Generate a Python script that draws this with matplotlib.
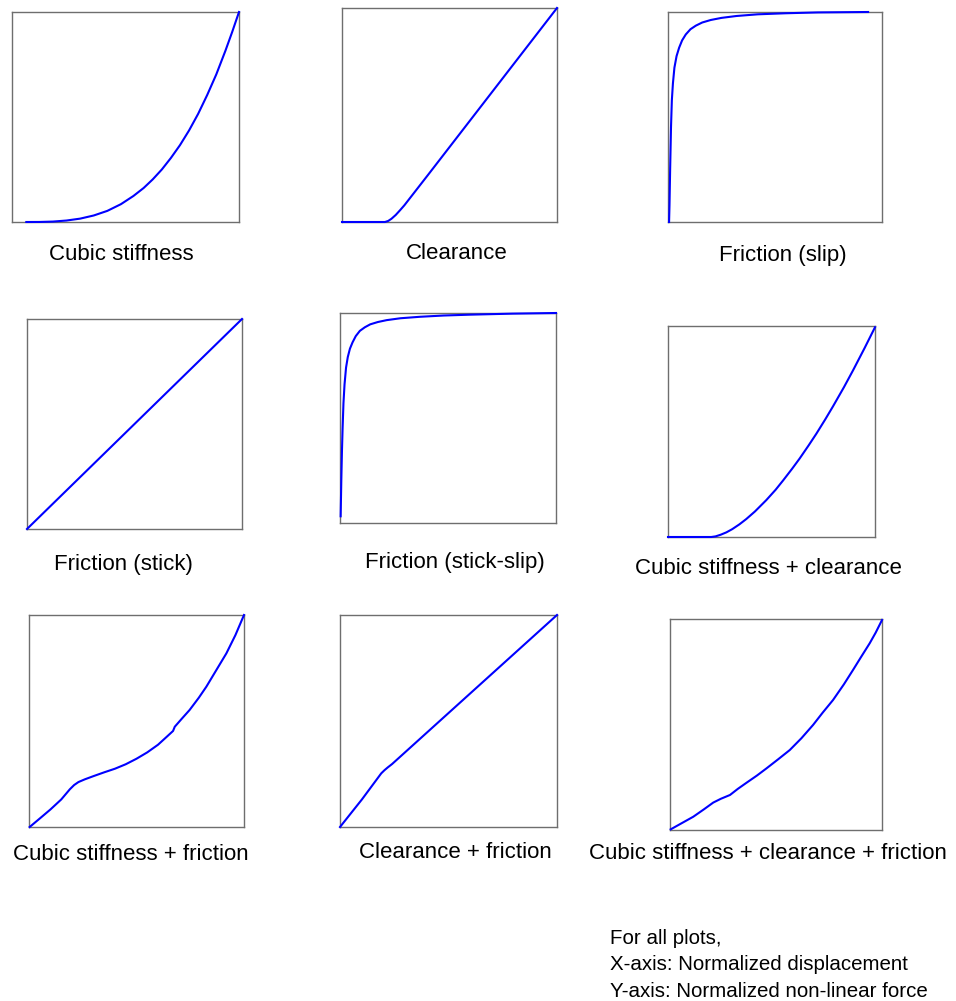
import matplotlib
matplotlib.use("Agg")
import matplotlib.pyplot as plt

plt.rcParams["font.family"] = ["Liberation Sans", "DejaVu Sans"]

W, H = 956, 1001

# Normalized force-displacement curves, one pair of lists per nonlinearity
cubic_x = [0.063, 0.12, 0.18, 0.24, 0.3, 0.36, 0.42, 0.48, 0.535, 0.58, 0.62, 0.66,
           0.7, 0.74, 0.78, 0.82, 0.86, 0.9, 0.94, 0.97, 1.0]
cubic_y = [0.0, 0.0002, 0.002, 0.007, 0.016, 0.031, 0.053, 0.085, 0.124, 0.162, 0.203, 0.25,
           0.305, 0.366, 0.436, 0.515, 0.605, 0.703, 0.815, 0.905, 1.0]

clear_x = [0.0, 0.2, 0.215, 0.23, 0.25, 0.27, 0.29, 0.4, 1.0]
clear_y = [0.0, 0.0, 0.005, 0.015, 0.033, 0.055, 0.078, 0.22, 1.0]

slip_x = [0.005, 0.007, 0.01, 0.014, 0.018, 0.023, 0.03, 0.04, 0.052, 0.066, 0.083,
          0.105, 0.13, 0.16, 0.2, 0.25, 0.32, 0.42, 0.55, 0.7, 0.935]
slip_y = [0.0, 0.08, 0.25, 0.45, 0.58, 0.66, 0.735, 0.79, 0.83, 0.865, 0.893,
          0.918, 0.935, 0.95, 0.962, 0.972, 0.981, 0.989, 0.994, 0.998, 1.0]

stick_x = [0.0, 0.5, 1.0]
stick_y = [0.0, 0.5, 1.0]

stickslip_x = [0.003, 0.006, 0.009, 0.012, 0.016, 0.021, 0.028, 0.036, 0.046, 0.058, 0.073,
               0.092, 0.115, 0.14, 0.175, 0.216, 0.28, 0.37, 0.48, 0.6, 0.8, 1.0]
stickslip_y = [0.032, 0.2, 0.34, 0.45, 0.57, 0.66, 0.74, 0.79, 0.83, 0.86, 0.89,
               0.915, 0.932, 0.946, 0.957, 0.966, 0.975, 0.982, 0.988, 0.992, 0.997, 1.0]

cubclear_x = [0.0, 0.209, 0.23, 0.255, 0.282, 0.31, 0.345, 0.378, 0.42, 0.475, 0.52,
              0.556, 0.6, 0.636, 0.68, 0.717, 0.76, 0.797, 0.85, 0.894, 0.95, 1.0]
cubclear_y = [0.0, 0.0, 0.003, 0.011, 0.022, 0.037, 0.06, 0.085, 0.121, 0.175, 0.224,
              0.268, 0.324, 0.372, 0.435, 0.49, 0.558, 0.619, 0.71, 0.79, 0.896, 0.994]

cubfric_x = [0.003, 0.05, 0.1, 0.15, 0.19, 0.21, 0.23, 0.26, 0.3, 0.35, 0.4, 0.45, 0.5,
             0.55, 0.6, 0.64, 0.67, 0.678, 0.71, 0.747, 0.79, 0.825, 0.87, 0.918, 0.96, 1.0]
cubfric_y = [0.0, 0.04, 0.083, 0.13, 0.178, 0.198, 0.212, 0.225, 0.24, 0.258, 0.275, 0.296, 0.322,
             0.352, 0.388, 0.425, 0.453, 0.473, 0.51, 0.552, 0.61, 0.662, 0.738, 0.819, 0.905, 1.0]

clearfric_x = [0.0, 0.101, 0.19, 0.205, 0.22, 0.24, 1.0]
clearfric_y = [0.0, 0.13, 0.253, 0.268, 0.281, 0.297, 1.0]

all3_x = [0.003, 0.06, 0.11, 0.16, 0.204, 0.24, 0.283, 0.32, 0.361, 0.41, 0.455, 0.51,
          0.565, 0.62, 0.675, 0.72, 0.769, 0.82, 0.863, 0.9, 0.942, 0.97, 1.0]
all3_y = [0.003, 0.035, 0.063, 0.098, 0.13, 0.148, 0.166, 0.195, 0.224, 0.258, 0.292, 0.335,
          0.379, 0.435, 0.498, 0.556, 0.616, 0.69, 0.758, 0.818, 0.885, 0.935, 0.995]

titles = ["Cubic stiffness", "Clearance", "Friction (slip)",
          "Friction (stick)", "Friction (stick-slip)", "Cubic stiffness + clearance",
          "Cubic stiffness + friction", "Clearance + friction",
          "Cubic stiffness + clearance + friction"]
curves = [(cubic_x, cubic_y), (clear_x, clear_y), (slip_x, slip_y),
          (stick_x, stick_y), (stickslip_x, stickslip_y), (cubclear_x, cubclear_y),
          (cubfric_x, cubfric_y), (clearfric_x, clearfric_y), (all3_x, all3_y)]

# box edges in pixels: left, top, right, bottom
boxes = [(12, 12, 239, 222), (342, 8, 557, 222), (668, 12, 882, 222),
         (27, 319, 242, 529), (340, 313, 556, 523), (668, 326, 875, 537),
         (29, 615, 244, 827), (340, 615, 557, 827), (670, 619, 882, 830)]
# label centre x and baseline y in pixels
label_pos = [(121, 260), (457, 259), (783, 261),
             (123, 570), (455, 568), (768, 574),
             (131, 860), (455, 858), (768, 859)]

fig = plt.figure(figsize=(W / 100, H / 100), dpi=100)

for (l, t, r, b), (x, y), title, (lx, ly) in zip(boxes, curves, titles, label_pos):
    ax = fig.add_axes([l / W, 1 - b / H, (r - l) / W, (b - t) / H])
    ax.plot(x, y, color="#0000ff", lw=1.5, clip_on=False, zorder=3,
            solid_joinstyle="round")
    ax.set_xlim(0, 1)
    ax.set_ylim(0, 1)
    ax.set_xticks([])
    ax.set_yticks([])
    for s in ax.spines.values():
        s.set_color("#6e6e6e")
        s.set_linewidth(1.0)
    fig.text(lx / W, 1 - ly / H, title, ha="center", va="baseline", fontsize=16)

notes = ["For all plots,", "X-axis: Normalized displacement", "Y-axis: Normalized non-linear force"]
for i, line in enumerate(notes):
    fig.text(610 / W, 1 - (944 + 26.5 * i) / H, line, ha="left", va="baseline", fontsize=14.8)

fig.savefig("out.png", dpi=100)
